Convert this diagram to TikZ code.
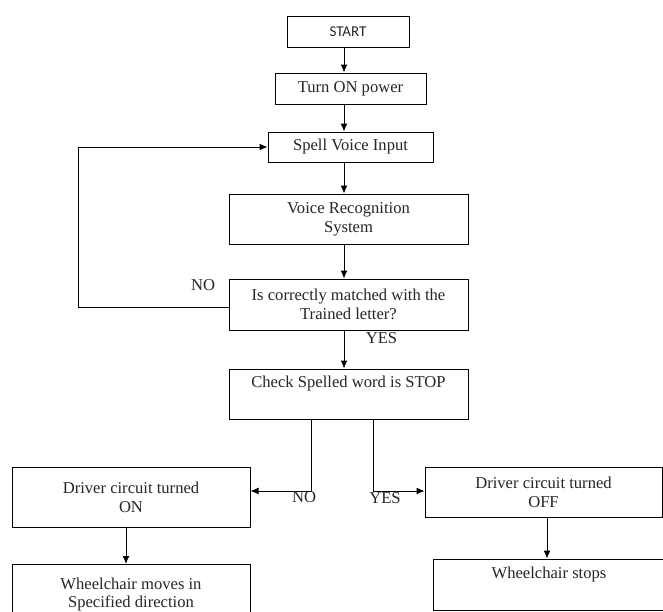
\documentclass[tikz,border=0pt]{standalone}
\usepackage{fontspec}
\setmainfont{Liberation Serif}
\newfontfamily\startfont{Carlito}
\usetikzlibrary{arrows.meta}
\begin{document}
\begin{tikzpicture}[x=1pt,y=-1pt,
  box/.style={draw, line width=1pt, inner sep=0pt, align=center, font=\fontsize{16.6}{18.7}\selectfont, text=black!85},
  lbl/.style={inner sep=0pt, font=\fontsize{16.6}{18.7}\selectfont, text=black!85},
  arr/.style={line width=1pt, -{Latex[length=8pt,width=7pt]}},
  ln/.style={line width=1pt}]
\useasboundingbox[fill=white] (0,0) rectangle (663,611);
\coordinate (spine) at (344,0);
\coordinate (fb) at (78,307);
\coordinate (nox) at (311.7,491);
\coordinate (yesx) at (373,491);
\coordinate (lx) at (126,0);
\coordinate (rx) at (547,0);

\node[box, minimum width=122pt, minimum height=31pt, font=\startfont\fontsize{15}{17}\selectfont] (start) at (348,31.5) {START};
\node[box, minimum width=151pt, minimum height=31pt] (turn) at (350.5,88.5) {Turn ON power};
\node[box, minimum width=165pt, minimum height=30pt] (spell) at (350.5,147) {Spell Voice Input};
\node[box, minimum width=239pt, minimum height=50pt] (vrs) at (348.5,219) {Voice Recognition\\System};
\node[box, minimum width=239pt, minimum height=51pt] (dec) at (348.5,304.5) {Is correctly matched with the\\Trained letter?};
\node[box, minimum width=239pt, minimum height=50pt] (check) at (348.5,394) {Check Spelled word is STOP\\\strut};
\node[box, minimum width=238pt, minimum height=60pt] (don) at (131,497) {Driver circuit turned\\ON};
\node[box, minimum width=238pt, minimum height=60pt] (move) at (131,594.5) {Wheelchair moves in\\Specified direction};
\node[box, minimum width=237pt, minimum height=50pt] (doff) at (543.5,492) {Driver circuit turned\\OFF};
\node[box, minimum width=232pt, minimum height=51pt] (stops) at (549,584.5) {Wheelchair stops\\\strut};

\draw[arr] (start.south -| spine) -- (turn.north -| spine);
\draw[arr] (turn.south -| spine) -- (spell.north -| spine);
\draw[arr] (spell.south -| spine) -- (vrs.north -| spine);
\draw[arr] (vrs.south -| spine) -- (dec.north -| spine);
\draw[arr] (dec.south -| spine) -- (check.north -| spine);
\draw[arr] (dec.west |- fb) -- (fb) |- (spell.west);
\draw[arr] (check.south -| nox) -- (nox) -- (nox -| don.east);
\draw[arr] (check.south -| yesx) -- (yesx) -- (yesx -| doff.west);
\draw[arr] (don.south -| lx) -- (move.north -| lx);
\draw[arr] (doff.south -| rx) -- (stops.north -| rx);

\node[lbl] (no1) at (203,285) {NO};
\node[lbl] (yes1) at (381.5,338.5) {YES};
\node[lbl] (no2) at (304,497) {NO};
\node[lbl] (yes2) at (385,498) {YES};
\end{tikzpicture}
\end{document}
